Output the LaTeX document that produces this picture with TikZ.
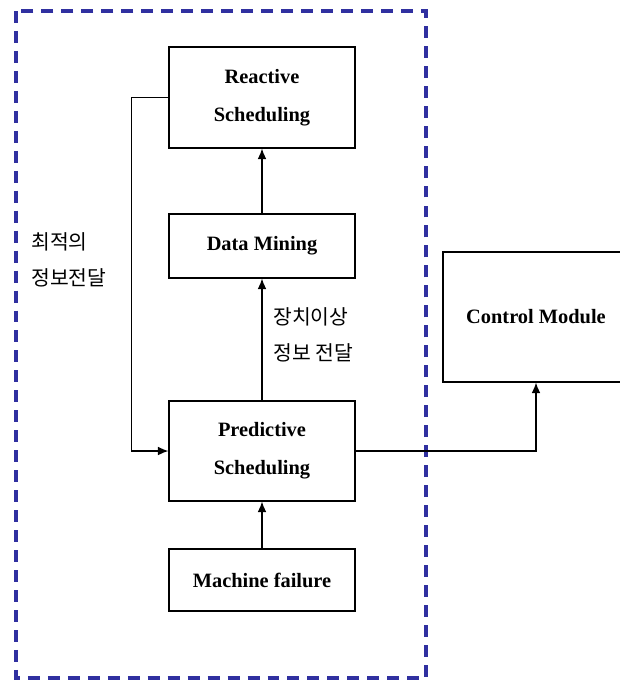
\documentclass[tikz,border=0pt]{standalone}
\usepackage{fontspec}
\setmainfont{Liberation Serif}
\newfontfamily\kofont{Noto Sans CJK KR}
\usepackage{xcolor}
\usetikzlibrary{arrows.meta,positioning,calc}

\definecolor{framenavy}{RGB}{48,48,160}

\begin{document}
\begin{tikzpicture}[
    x=0.025cm, y=-0.025cm,
    sblock/.style={rectangle, draw=black, line width=0.9pt, fill=white, minimum width=4.65cm, align=center, inner sep=0pt, font=\fontsize{14.5}{27}\selectfont\bfseries},
    klabel/.style={anchor=west, align=left, inner sep=0pt, font=\kofont\fontsize{14.5}{25.6}\selectfont},
    harrow/.style={-{Latex[length=2.6mm, width=2.2mm]}, line width=0.9pt, black}
  ]
    \useasboundingbox (0,0) rectangle (620,680);

    % Outer Frame
    \draw[draw=framenavy, line width=2.3pt, dash pattern=on 8.5pt off 5.7pt] (16,11) rectangle (426,678);

    % Scheduling blocks
    \node[sblock, minimum height=2.525cm] (reactive) at (262,97.5) {Reactive\\Scheduling};
    \node[sblock, minimum height=1.6cm] (mining) at (262,246) {Data Mining};
    \node[sblock, minimum height=2.5cm] (predictive) at (262,451) {Predictive\\Scheduling};
    \node[sblock, minimum height=1.55cm] (failure) at (262,580) {Machine failure};

    % Control Module (cut by the right edge)
    \node[sblock, minimum height=3.25cm] (control) at (536,317) {Control Module};

    % Connectors
    \draw[harrow] (failure) -- (predictive);
    \draw[harrow] (predictive) -- (mining);
    \draw[harrow] (mining) -- (reactive);
    \draw[harrow] (reactive.west) -- ++(-37,0) |- (predictive.west);
    \draw[harrow] (predictive.east) -| (control.south);

    % Labels
    \node[klabel] (feedlbl) at (31,260) {최적의\\정보전달};
    \node[klabel] (faultlbl) at (273,334.5) {장치이상\\정보 전달};
  \end{tikzpicture}
\end{document}
